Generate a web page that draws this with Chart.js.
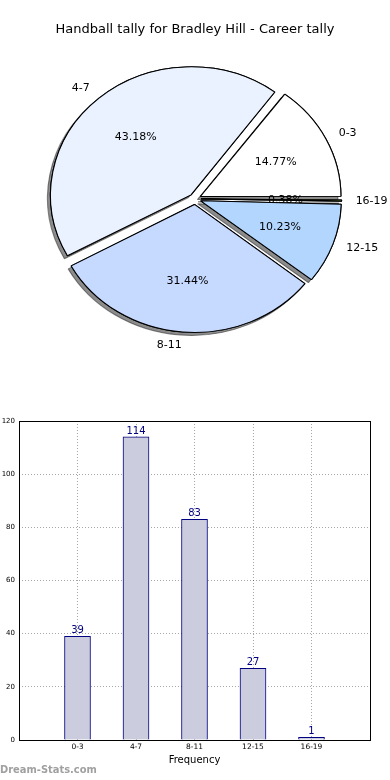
<!DOCTYPE html>
<html>
<head>
<meta charset="utf-8">
<script src="https://cdn.jsdelivr.net/npm/chart.js@4"></script>
<style>
  body { margin: 0; background: #fff; width: 390px; height: 780px; position: relative; overflow: hidden; }
  #pieWrap { position: absolute; left: 0; top: 0; width: 390px; height: 360px; }
  #barWrap { position: absolute; left: 0; top: 360px; width: 390px; height: 420px; }
  #mark { position: absolute; left: 0; top: 763px; font: bold 11px "DejaVu Sans Condensed", "DejaVu Sans", sans-serif; color: #a0a0a0; }
</style>
</head>
<body>
<div id="pieWrap"><canvas id="pieChart" width="390" height="360"></canvas></div>
<div id="barWrap"><canvas id="barChart" width="390" height="420"></canvas></div>
<div id="mark">Dream-Stats.com</div>
<script>
const categories = ['0-3', '4-7', '8-11', '12-15', '16-19'];
const tally = [39, 114, 83, 27, 1];
const sliceColors = ['#ffffff', '#eaf2ff', '#c6d9ff', '#b3d6ff', '#b8d860'];
const yTicks = [0, 20, 40, 60, 80, 100, 120];

const total = tally.reduce((a, b) => a + b, 0);

// matplotlib goes counter-clockwise from 3 o'clock, chart.js clockwise -> reverse
const pieLabels = [...categories].reverse();
const pieData = [...tally].reverse();
const pieColors = [...sliceColors].reverse();

const SX = 1.098;      // pie is a bit wider than tall
const RADIUS = 128;
const EXPLODE = 22;    // chart.js moves each arc offset/4

const ellipse = {
  id: 'ellipse',
  afterDatasetsUpdate(chart) {
    // undo the radius bump chart.js gives to offset arcs
    chart.getDatasetMeta(0).data.forEach(a => {
      const fix = 1 - Math.sin(Math.min(Math.PI, a.circumference));
      a.outerRadius -= (EXPLODE / 4) * fix;
    });
  },
  beforeDatasetsDraw(chart) {
    const ctx = chart.ctx;
    const arcs = chart.getDatasetMeta(0).data;
    const a = arcs[0];
    ctx.save();
    ctx.translate(a.x, a.y);
    ctx.scale(SX, 1);
    ctx.translate(-a.x, -a.y);
    // shadow pass first, the normal pass covers it
    ctx.save();
    ctx.shadowColor = 'rgba(0,0,0,0.45)';
    ctx.shadowOffsetX = -3;
    ctx.shadowOffsetY = 3;
    arcs.forEach(el => el.draw(ctx));
    ctx.restore();
  },
  afterDatasetsDraw(chart) {
    chart.ctx.restore();
  }
};

const pieText = {
  id: 'pieText',
  afterDraw(chart) {
    const ctx = chart.ctx;
    const meta = chart.getDatasetMeta(0);
    ctx.save();
    ctx.font = '11px "DejaVu Sans"';
    ctx.fillStyle = '#000';
    ctx.textBaseline = 'middle';
    meta.data.forEach((a, i) => {
      const mid = (a.startAngle + a.endAngle) / 2;
      const c = Math.cos(mid), s = Math.sin(mid);
      const cx = a.x + c * EXPLODE / 4 * SX;
      const cy = a.y + s * EXPLODE / 4;
      const pct = (pieData[i] / total * 100).toFixed(2) + '%';
      ctx.textAlign = 'center';
      ctx.fillText(pct, cx + 0.6 * RADIUS * SX * c, cy + 0.6 * RADIUS * s);
      ctx.textAlign = c > 0 ? 'left' : 'right';
      ctx.fillText(pieLabels[i], cx + 1.1 * RADIUS * SX * c, cy + 1.1 * RADIUS * s);
    });
    ctx.restore();
  }
};

new Chart(document.getElementById('pieChart'), {
  type: 'pie',
  data: {
    labels: pieLabels,
    datasets: [{
      data: pieData,
      backgroundColor: pieColors,
      borderColor: '#000',
      borderWidth: 1,
      offset: EXPLODE
    }]
  },
  options: {
    responsive: false,
    animation: false,
    events: [],
    rotation: 90,
    radius: RADIUS,
    layout: { padding: { top: 0, bottom: 9.6, left: 0, right: 0 } },
    plugins: {
      legend: { display: false },
      tooltip: { enabled: false },
      title: {
        display: true,
        text: 'Handball tally for Bradley Hill - Career tally',
        color: '#000',
        font: { family: 'DejaVu Sans', size: 13, weight: 'normal' },
        padding: { top: 22, bottom: 10 }
      }
    }
  },
  plugins: [ellipse, pieText]
});

const barValues = {
  id: 'barValues',
  afterDatasetsDraw(chart) {
    const ctx = chart.ctx;
    ctx.save();
    ctx.font = '10px "DejaVu Sans"';
    ctx.fillStyle = '#000080';
    ctx.textAlign = 'center';
    ctx.textBaseline = 'bottom';
    chart.getDatasetMeta(0).data.forEach((b, i) => {
      ctx.fillText(String(tally[i]), b.x, b.y - 1);
    });
    ctx.restore();
  }
};

const frame = {
  id: 'frame',
  afterDraw(chart) {
    const { left, top, right, bottom } = chart.chartArea;
    const ctx = chart.ctx;
    ctx.save();
    ctx.strokeStyle = '#000';
    ctx.lineWidth = 1;
    ctx.strokeRect(Math.round(left) + 0.5, Math.round(top) + 0.5, Math.round(right - left), Math.round(bottom - top));
    ctx.restore();
  }
};

new Chart(document.getElementById('barChart'), {
  type: 'bar',
  data: {
    datasets: [{
      data: tally.map((v, i) => ({ x: i, y: v })),
      backgroundColor: '#ccccdf',
      borderColor: '#000080',
      borderWidth: 1,
      barThickness: 26
    }]
  },
  options: {
    responsive: false,
    animation: false,
    events: [],
    layout: { padding: { top: 61, right: 20, left: 0, bottom: 0 } },
    plugins: { legend: { display: false }, tooltip: { enabled: false } },
    scales: {
      x: {
        type: 'linear',
        min: -1,
        max: 5,
        offset: false,
        z: 1,
        afterFit(scale) { scale.height = 40; },
        ticks: {
          stepSize: 1,
          maxRotation: 0,
          autoSkip: false,
          padding: 3,
          color: '#000',
          font: { family: 'DejaVu Sans', size: 7.5 },
          callback: v => categories[v] ?? ''
        },
        grid: { color: 'rgba(0,0,0,0.35)', drawTicks: false, offset: false },
        border: { display: false, dash: [1, 2] },
        title: {
          display: true,
          text: 'Frequency',
          color: '#000',
          font: { family: 'DejaVu Sans', size: 10 },
          padding: { top: 0, bottom: 14 }
        }
      },
      y: {
        min: 0,
        max: 120,
        z: 1,
        afterFit(scale) { scale.width = 19; },
        afterBuildTicks(scale) { scale.ticks = yTicks.map(v => ({ value: v })); },
        ticks: {
          padding: 4,
          color: '#000',
          font: { family: 'DejaVu Sans', size: 7 }
        },
        grid: { color: 'rgba(0,0,0,0.35)', drawTicks: false },
        border: { display: false, dash: [1, 2] }
      }
    }
  },
  plugins: [barValues, frame]
});
</script>
</body>
</html>
